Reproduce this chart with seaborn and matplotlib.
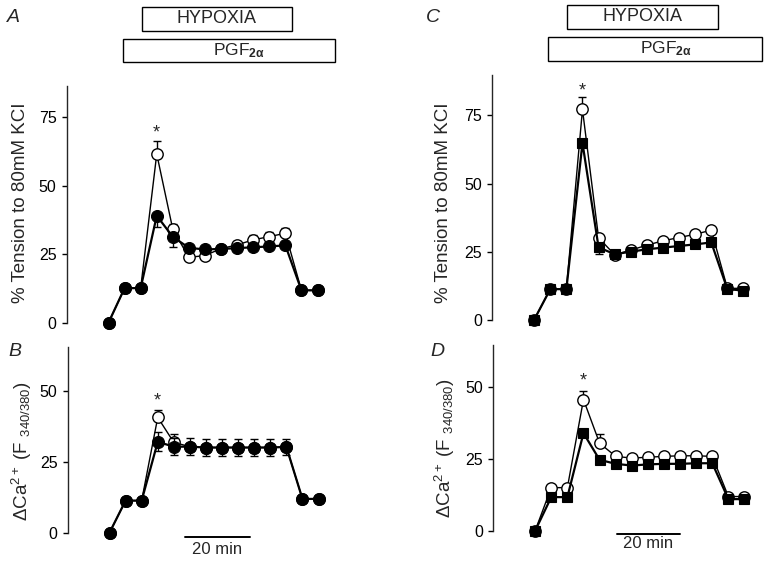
import numpy as np
import pandas as pd
import seaborn as sns
import matplotlib
matplotlib.use("Agg")
import matplotlib.pyplot as plt
from matplotlib.patches import Rectangle
from matplotlib.transforms import blended_transform_factory

# ---------------- data ----------------
time_min = [0, 5, 10, 15, 20, 25, 30, 35, 40, 45, 50, 55, 60, 65]

# Panel A: % tension (circles)
a_open = [0, 12.6, 12.6, 61.5, 34.0, 23.8, 24.5, 27.0, 28.4, 30.2, 31.4, 32.6, 11.8, 11.8]
a_open_err = [0, 0, 0, 4.8, 2.0, 0, 0, 0, 1.5, 1.8, 1.8, 2.0, 0, 0]
a_filled = [0, 12.6, 12.6, 39.0, 31.3, 27.3, 26.7, 26.9, 27.2, 27.5, 27.8, 28.2, 11.8, 11.8]
a_filled_err = [0, 0, 0, 4.0, 3.6, 0, 0, 0, 0, 0, 0, 0, 0, 0]

# Panel B: delta Ca2+ (circles)
b_open = [0, 11.3, 11.3, 40.6, 31.8, 30.3, 30.0, 30.0, 30.0, 30.0, 30.0, 30.2, 11.9, 11.9]
b_open_err = [0, 0, 0, 2.6, 2.9, 0, 0, 0, 0, 0, 0, 0, 0, 0]
b_filled = [0, 11.3, 11.3, 32.0, 30.3, 30.3, 30.0, 30.0, 30.0, 30.0, 30.0, 30.2, 11.9, 11.9]
b_filled_err = [0, 0, 0, 3.4, 2.9, 2.9, 2.9, 2.9, 2.9, 2.9, 2.9, 2.9, 0, 0]

# Panel C: % tension (open circles, filled squares)
c_open = [0.2, 11.4, 11.4, 77.2, 30.2, 24.0, 25.7, 27.5, 29.1, 30.3, 31.5, 33.0, 11.7, 11.7]
c_open_err = [0, 0, 0, 4.5, 0, 0, 0, 0, 0, 0, 0, 0, 0, 0]
c_filled = [0.2, 11.4, 11.4, 64.9, 26.7, 24.2, 25.1, 26.0, 26.6, 27.2, 27.8, 28.5, 11.4, 10.9]
c_filled_err = [0, 0, 0, 0, 2.4, 0, 0, 0, 0, 0, 0, 0, 0, 0]

# Panel D: delta Ca2+ (open circles, filled squares)
d_open = [0, 15.0, 15.0, 45.7, 30.5, 25.9, 25.3, 25.6, 25.9, 26.1, 26.1, 25.9, 11.9, 11.9]
d_open_err = [0, 0, 0, 3.0, 3.3, 0, 0, 0, 0, 0, 0, 0, 0, 0]
d_filled = [0, 11.7, 11.7, 34.0, 24.7, 23.3, 22.7, 23.1, 23.3, 23.3, 23.5, 23.5, 11.0, 11.0]
d_filled_err = [0, 0, 0, 0, 0, 0, 0, 0, 0, 0, 0, 0, 0, 0]

tension_ticks = [0, 25, 50, 75]
calcium_ticks = [0, 25, 50]
tension_label = "% Tension to 80mM KCI"
calcium_label = r"$\Delta$Ca$^{2+}$ (F $_{340/380}$)"

# ---------------- style ----------------
sns.set_style("ticks")
plt.rcParams["font.family"] = ["Liberation Sans", "DejaVu Sans"]
plt.rcParams["mathtext.fontset"] = "custom"
plt.rcParams["mathtext.rm"] = "Liberation Sans"
plt.rcParams["mathtext.it"] = "Liberation Sans:italic"
plt.rcParams["mathtext.bf"] = "Liberation Sans:bold"

fig = plt.figure(figsize=(7.68, 5.61), dpi=100)

W, H = 768.0, 561.0


def axes_px(left, bottom_px, top_px, width_px):
    return fig.add_axes([left / W, (H - bottom_px) / H, width_px / W, (bottom_px - top_px) / H])


axA = axes_px(66.7, 322.7, 86.0, 283.0)
axB = axes_px(67.7, 532.7, 347.3, 283.0)
axC = axes_px(492.3, 320.3, 75.0, 283.4)
axD = axes_px(493.3, 530.7, 345.0, 283.4)


def draw(ax, open_v, open_e, fil_v, fil_e, fil_marker, ylim, ticks, star_y, fil_sym=False):
    df_o = pd.DataFrame({"t": time_min, "v": open_v})
    df_f = pd.DataFrame({"t": time_min, "v": fil_v})
    ax.errorbar(time_min, open_v, yerr=[np.zeros(len(open_e)), open_e], fmt="none",
                ecolor="black", elinewidth=1.0, capsize=2.6, capthick=1.0, zorder=2, clip_on=False)
    sns.lineplot(data=df_o, x="t", y="v", ax=ax, estimator=None, errorbar=None,
                 color="black", linewidth=1.0, marker="o", markersize=8.2,
                 markerfacecolor="white", markeredgecolor="black", markeredgewidth=1.0,
                 zorder=3, clip_on=False)
    lower = fil_e
    upper = fil_e if fil_sym else np.zeros(len(fil_e))
    ax.errorbar(time_min, fil_v, yerr=[lower, upper], fmt="none",
                ecolor="black", elinewidth=1.0, capsize=2.6, capthick=1.0, zorder=4, clip_on=False)
    ms = 8.6 if fil_marker == "o" else 7.4
    sns.lineplot(data=df_f, x="t", y="v", ax=ax, estimator=None, errorbar=None,
                 color="black", linewidth=1.6, marker=fil_marker, markersize=ms,
                 markerfacecolor="black", markeredgecolor="black", markeredgewidth=0.8,
                 zorder=5, clip_on=False)
    ax.set_xlim(-13, 75)
    ax.set_ylim(*ylim)
    ax.set_yticks(ticks)
    ax.set_yticklabels([str(t) for t in ticks], fontsize=11.5)
    ax.set_xticks([])
    ax.set_xlabel("")
    ax.set_ylabel("")
    sns.despine(ax=ax, bottom=True)
    ax.spines["left"].set_linewidth(1.0)
    ax.tick_params(axis="y", direction="out", length=3.4, width=1.0, pad=4.0, colors="black")
    ax.patch.set_alpha(0)
    ax.text(15, star_y, "*", ha="center", va="center", fontsize=13, zorder=6)


draw(axA, a_open, a_open_err, a_filled, a_filled_err, "o", (0, 86.3), tension_ticks, 69.0)
draw(axB, b_open, b_open_err, b_filled, b_filled_err, "o", (0, 65.3), calcium_ticks, 46.5, fil_sym=True)
draw(axC, c_open, c_open_err, c_filled, c_filled_err, "s", (0, 89.8), tension_ticks, 84.0)
draw(axD, d_open, d_open_err, d_filled, d_filled_err, "s", (0, 64.7), calcium_ticks, 52.0)


# header boxes
def box(ax, x0, x1, ytop_px, ybot_px, text, tx_frac, fs):
    tr = blended_transform_factory(ax.transData, fig.transFigure)
    yb = (H - ybot_px) / H
    h = (ybot_px - ytop_px) / H
    ax.add_patch(Rectangle((x0, yb), x1 - x0, h, transform=tr, fill=False,
                           edgecolor="black", linewidth=1.0, clip_on=False))
    ax.text(x0 + (x1 - x0) * tx_frac, yb + h / 2, text, transform=tr,
            ha="center", va="center", fontsize=fs)


pgf = r"PGF$_{\mathbf{2\alpha}}$"
box(axA, 10.4, 57.0, 7.3, 30.5, "HYPOXIA", 0.5, 13)
box(axA, 4.4, 70.3, 39.0, 61.7, pgf, 0.55, 12.5)
box(axC, 10.2, 57.0, 5.0, 28.7, "HYPOXIA", 0.5, 13)
box(axC, 4.4, 70.9, 36.7, 60.5, pgf, 0.55, 12.5)


# scale bars
def scalebar(ax, x0, x1, y_px, ty_px):
    tr = blended_transform_factory(ax.transData, fig.transFigure)
    ax.plot([x0, x1], [(H - y_px) / H] * 2, color="black", linewidth=1.4,
            transform=tr, clip_on=False)
    ax.text((x0 + x1) / 2, (H - ty_px) / H, "20 min", transform=tr,
            ha="center", va="center", fontsize=12)


scalebar(axB, 23.6, 43.6, 536.7, 549.0)
scalebar(axD, 25.4, 45.0, 534.3, 544.0)

# y labels
fig.text(21 / W, (H - 203) / H, tension_label, rotation=90, ha="center", va="center", fontsize=13.5)
fig.text(444 / W, (H - 203) / H, tension_label, rotation=90, ha="center", va="center", fontsize=13.5)
fig.text(22 / W, (H - 451) / H, calcium_label, rotation=90, ha="center", va="center", fontsize=13.5)
fig.text(445 / W, (H - 448) / H, calcium_label, rotation=90, ha="center", va="center", fontsize=13.5)

# panel letters
for lab, x, y in [("A", 13, 17), ("B", 15, 352), ("C", 433, 17.5), ("D", 437, 352)]:
    fig.text(x / W, (H - y) / H, lab, ha="center", va="center", fontsize=14, style="italic")

fig.savefig("out.png", dpi=100)
